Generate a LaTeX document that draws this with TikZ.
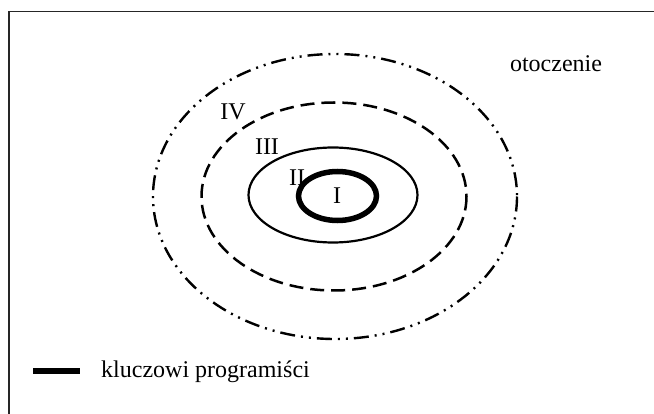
\documentclass[tikz,border=0pt]{standalone}
\usepackage{fontspec}
\setmainfont{Liberation Serif}
\begin{document}
\begin{tikzpicture}[x=1pt,y=-1pt,
  lbl/.style={inner sep=0pt, font=\fontsize{24}{28}\selectfont},
  ring/.style={line width=2.2pt},
  dashdotdot/.style={line width=2.4pt, dash pattern=on 15pt off 6pt on 2pt off 6pt on 2pt off 6pt},
  dashring/.style={line width=2.5pt, dash pattern=on 14pt off 7pt},
  corering/.style={line width=5.5pt}]
\useasboundingbox (0,0) rectangle (654,414);
% frame (open towards the right and bottom edges)
\draw[line width=1.8pt, black!85] (8.8,430) -- (8.8,11.5) -- (670,11.5);
% concentric zones
\draw[dashdotdot] (335,196.5) ellipse [x radius=182, y radius=142.5];
\draw[dashring] (334,196.5) ellipse [x radius=132.5, y radius=94];
\draw[ring] (333,195) ellipse [x radius=84.5, y radius=47.5];
\draw[corering] (337.5,196) ellipse [x radius=39, y radius=24.5];
% zone labels
\node[lbl] (z1) at (337,196) {I};
\node[lbl] (z2) at (297,178) {II};
\node[lbl] (z3) at (267,147) {III};
\node[lbl] (z4) at (233,112) {IV};
\node[lbl] (env) at (556,64) {otoczenie};
% legend
\coordinate (lg1) at (33,371);
\coordinate (lg2) at (80,371);
\draw[line width=5.5pt] (lg1) -- (lg2);
\node[lbl, anchor=west] (key) at (101,372) {kluczowi programiści};
\end{tikzpicture}
\end{document}
